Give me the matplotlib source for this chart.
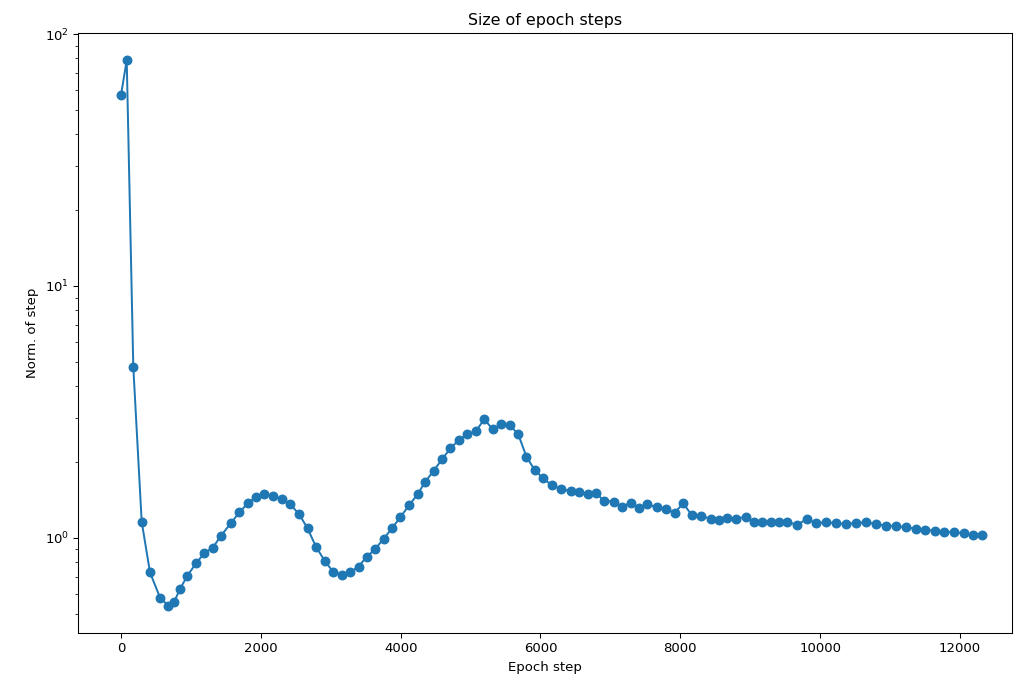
import matplotlib
matplotlib.use("Agg")
import matplotlib.pyplot as plt

# epoch step at which each step size was recorded
steps = [0, 82, 176, 296, 415, 558, 677, 759, 845, 949,
         1074, 1193, 1313, 1432, 1571, 1694, 1814, 1933, 2052, 2181,
         2301, 2420, 2549, 2668, 2788, 2911, 3032, 3160, 3279, 3398,
         3518, 3637, 3756, 3876, 3995, 4124, 4243, 4353, 4472, 4592,
         4711, 4830, 4950, 5079, 5198, 5317, 5437, 5560, 5681, 5800,
         5918, 6039, 6158, 6301, 6430, 6558, 6677, 6798, 6907, 7050,
         7170, 7289, 7408, 7528, 7661, 7790, 7919, 8043, 8162, 8291,
         8434, 8553, 8674, 8792, 8935, 9054, 9175, 9294, 9413, 9533,
         9666, 9809, 9948, 10081, 10224, 10368, 10511, 10654, 10797, 10940,
         11083, 11227, 11370, 11503, 11642, 11775, 11918, 12053, 12182, 12311]

# norm of the parameter step
norms = [57.3, 78.7, 4.77, 1.16, 0.729, 0.580, 0.538, 0.556, 0.628, 0.707,
         0.794, 0.870, 0.915, 1.021, 1.144, 1.264, 1.372, 1.457, 1.494, 1.471,
         1.423, 1.360, 1.241, 1.092, 0.924, 0.813, 0.735, 0.714, 0.729, 0.770,
         0.843, 0.905, 0.991, 1.092, 1.208, 1.351, 1.490, 1.671, 1.847, 2.050,
         2.266, 2.444, 2.575, 2.661, 2.960, 2.695, 2.821, 2.803, 2.582, 2.099,
         1.859, 1.723, 1.621, 1.559, 1.535, 1.517, 1.490, 1.503, 1.405, 1.392,
         1.330, 1.380, 1.311, 1.363, 1.323, 1.303, 1.259, 1.372, 1.233, 1.226,
         1.189, 1.178, 1.197, 1.189, 1.214, 1.160, 1.160, 1.160, 1.160, 1.160,
         1.126, 1.186, 1.144, 1.154, 1.144, 1.136, 1.144, 1.154, 1.136, 1.119,
         1.116, 1.102, 1.086, 1.076, 1.069, 1.059, 1.053, 1.044, 1.028, 1.028]

fig = plt.figure(figsize=(1017 / 95, 677 / 95), dpi=95)
ax = fig.add_axes([78 / 1017, 44 / 677, 934 / 1017, 600 / 677])

ax.plot(steps, norms, "o-", color="#1f77b4", markersize=6.5, linewidth=1.5)
ax.set_yscale("log")
ax.set_xlim(-615, 12745)

ax.set_title("Size of epoch steps")
ax.set_xlabel("Epoch step")
ax.set_ylabel("Norm. of step")

fig.savefig("out.png", dpi=95)
